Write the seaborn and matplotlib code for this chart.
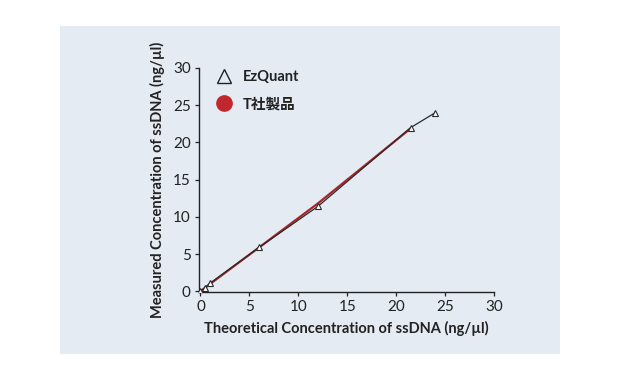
import matplotlib
matplotlib.use("Agg")
import matplotlib.pyplot as plt
from matplotlib.lines import Line2D
from matplotlib.patches import Rectangle
import seaborn as sns
import pandas as pd

# Data
ez_theory = [0, 0.5, 1, 6, 12, 21.5, 24]
ez_measured = [0, 0.5, 1.1, 5.9, 11.4, 22.0, 24.0]
t_theory = [0, 0.5, 1, 6, 12, 21.5]
t_measured = [0, 0.5, 1.0, 5.9, 11.8, 21.9]
ticks = [0, 5, 10, 15, 20, 25, 30]
series_names = ["EzQuant", "T社製品"]

sns.set_theme(style="ticks")
plt.rcParams["font.family"] = ["Lato", "Noto Sans CJK JP", "DejaVu Sans"]

fig = plt.figure(figsize=(6.21, 3.81), dpi=100)
fig.patch.set_facecolor("white")
# light blue panel behind the chart
fig.patches.append(Rectangle((0.0966, 0.0709), 0.805, 0.861, transform=fig.transFigure,
                             facecolor="#e4ebf3", edgecolor="none", zorder=-1))

ax = fig.add_axes([0.3205, 0.2336, 0.475, 0.588])
ax.set_facecolor("none")

df_t = pd.DataFrame({"x": t_theory, "y": t_measured})
df_ez = pd.DataFrame({"x": ez_theory, "y": ez_measured})
sns.lineplot(data=df_t, x="x", y="y", ax=ax, color="#a8262b", linewidth=1.6, zorder=2)
sns.lineplot(data=df_ez, x="x", y="y", ax=ax, color="#2a2a2a", linewidth=0.9,
             marker="^", markersize=4.8, markerfacecolor="white",
             markeredgecolor="#2a2a2a", markeredgewidth=0.8, zorder=3)

ax.set_xlim(-0.15, 30)
ax.set_ylim(-0.1, 30)
ax.set_xticks(ticks)
ax.set_yticks(ticks)
ax.tick_params(labelsize=11, colors="#222222", length=3, width=0.9, pad=3)
for s in ["top", "right"]:
    ax.spines[s].set_visible(False)
for s in ["left", "bottom"]:
    ax.spines[s].set_color("#222222")
    ax.spines[s].set_linewidth(1.0)

ax.set_xlabel("Theoretical Concentration of ssDNA (ng/µl)", fontsize=10.5,
              fontweight="bold", color="#222222", labelpad=5)
ax.set_ylabel("Measured Concentration of ssDNA (ng/µl)", fontsize=10.5,
              fontweight="bold", color="#222222", labelpad=6)

handles = [
    Line2D([], [], linestyle="none", marker="^", markersize=10,
           markerfacecolor="none", markeredgecolor="#222222", markeredgewidth=1.0),
    Line2D([], [], linestyle="none", marker="o", markersize=11,
           markerfacecolor="#c1272d", markeredgecolor="#c1272d"),
]
leg = ax.legend(handles, series_names, loc="upper left", bbox_to_anchor=(0.0, 1.035),
                frameon=False, fontsize=10.5, labelspacing=0.9, handletextpad=0.3,
                borderpad=0.2)
for t in leg.get_texts():
    t.set_fontweight("bold")
    t.set_color("#222222")

fig.savefig("out.png", dpi=100)
